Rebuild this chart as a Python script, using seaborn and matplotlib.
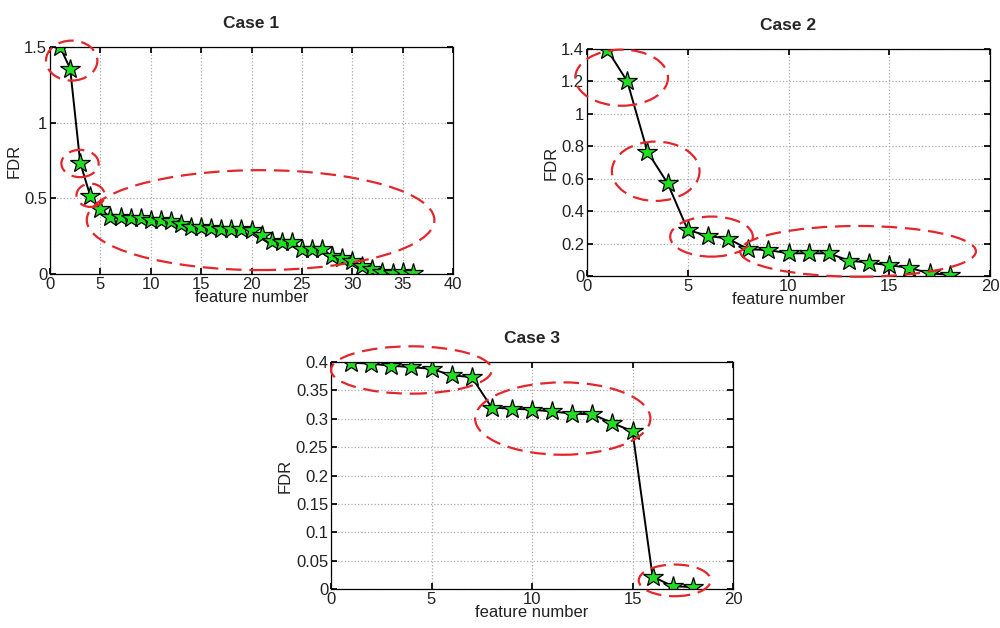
import matplotlib
matplotlib.use("Agg")
import matplotlib.pyplot as plt
import matplotlib.ticker as mticker
from matplotlib.patches import Ellipse
import seaborn as sns

# data
fdr_case1 = [1.50, 1.357, 0.735, 0.515, 0.43, 0.374, 0.374, 0.37, 0.367, 0.36,
             0.356, 0.352, 0.33, 0.312, 0.312, 0.303, 0.299, 0.299, 0.295, 0.29,
             0.255, 0.215, 0.211, 0.211, 0.163, 0.163, 0.163, 0.119, 0.103, 0.088,
             0.053, 0.035, 0.013, 0.009, 0.013, 0.004]
fdr_case2 = [1.396, 1.20, 0.766, 0.572, 0.284, 0.247, 0.231, 0.165, 0.16, 0.14,
             0.14, 0.14, 0.095, 0.082, 0.066, 0.051, 0.016, 0.008]
fdr_case3 = [0.399, 0.397, 0.3935, 0.391, 0.388, 0.3765, 0.3735, 0.3195, 0.318, 0.316,
             0.313, 0.309, 0.308, 0.2925, 0.278, 0.022, 0.005, 0.0035]

# groups circled in each panel: (center x, center y, width, height)
groups_case1 = [(2.15, 1.41, 5.1, 0.264), (2.98, 0.73, 3.7, 0.18),
                (4.03, 0.52, 2.8, 0.154), (20.9, 0.356, 34.5, 0.66)]
groups_case2 = [(1.72, 1.223, 4.6, 0.346), (3.41, 0.646, 4.35, 0.366),
                (6.18, 0.243, 4.1, 0.247), (13.45, 0.152, 11.7, 0.313)]
groups_case3 = [(4.0, 0.386, 8.0, 0.0834), (11.53, 0.3004, 8.72, 0.1275),
                (17.1, 0.0153, 3.58, 0.0558)]

sns.set_theme(style="ticks")
plt.rcParams["font.family"] = ["Liberation Sans", "DejaVu Sans"]

fig = plt.figure(figsize=(10, 6.28), dpi=100)
ax1 = fig.add_axes([0.050, 0.5637, 0.403, 0.3615])
ax2 = fig.add_axes([0.587, 0.5605, 0.403, 0.3615])
ax3 = fig.add_axes([0.331, 0.0620, 0.402, 0.3615])

panels = [
    (ax1, "Case 1", fdr_case1, groups_case1, 40, 1.5, 5, 0.5),
    (ax2, "Case 2", fdr_case2, groups_case2, 20, 1.4, 5, 0.2),
    (ax3, "Case 3", fdr_case3, groups_case3, 20, 0.4, 5, 0.05),
]

for ax, title, vals, groups, xmax, ymax, xstep, ystep in panels:
    feat = list(range(1, len(vals) + 1))
    sns.lineplot(x=feat, y=vals, ax=ax, color="black", linewidth=1.4,
                 marker="*", markersize=15, markerfacecolor="#1fe01f",
                 markeredgecolor="black", markeredgewidth=0.9)
    for cx, cy, w, h in groups:
        ax.add_patch(Ellipse((cx, cy), w, h, fill=False, edgecolor="#e3262b",
                             linewidth=1.6, linestyle=(0, (7, 3.5)),
                             clip_on=False, zorder=5))
    ax.set_xlim(0, xmax)
    ax.set_ylim(0, ymax)
    ax.xaxis.set_major_locator(mticker.MultipleLocator(xstep))
    ax.yaxis.set_major_locator(mticker.MultipleLocator(ystep))
    ax.yaxis.set_major_formatter(mticker.FormatStrFormatter("%g"))
    ax.xaxis.set_major_formatter(mticker.FormatStrFormatter("%g"))
    ax.grid(True, linestyle=":", color="#aaaaaa", linewidth=0.9)
    ax.tick_params(direction="in", length=4, labelsize=12, top=True, right=True,
                   labeltop=False, labelright=False, pad=2, colors="black",
                   labelcolor="#222222")
    for sp in ax.spines.values():
        sp.set_visible(True)
        sp.set_color("black")
        sp.set_linewidth(0.9)
    ax.set_xlabel("feature number", fontsize=12, labelpad=-1, color="#222222")
    ax.set_ylabel("FDR", fontsize=12, labelpad=2, color="#222222")
    ax.set_title(title, fontsize=12.5, fontweight="bold", pad=14)

fig.savefig("out.png", dpi=100, facecolor="white")
